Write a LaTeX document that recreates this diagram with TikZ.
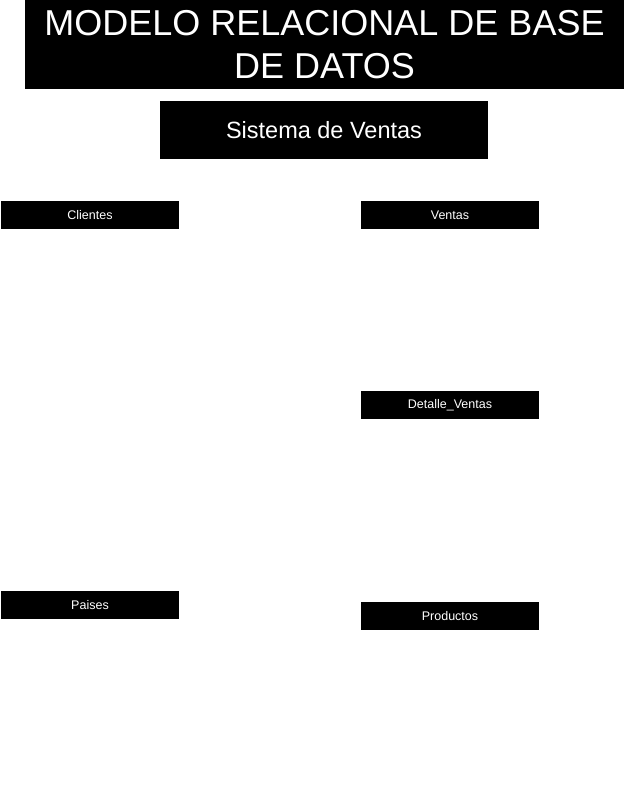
\documentclass[tikz,border=0pt]{standalone}
\usepackage{fontspec}
\setmainfont{Liberation Sans}
\usetikzlibrary{positioning}

\begin{document}
\begin{tikzpicture}[
    x=1pt, y=-1pt,
    titlebox/.style={fill=black, text=white, inner sep=0pt, align=center,
                     minimum width=599pt, minimum height=89pt,
                     font=\fontsize{36}{43}\selectfont},
    subbox/.style={fill=black, text=white, inner sep=0pt,
                   minimum width=328pt, minimum height=58pt,
                   font=\fontsize{23.5}{28}\selectfont},
    tbl/.style={fill=black, text=white, inner sep=0pt,
                minimum width=178pt, minimum height=28pt,
                font=\fontsize{12.5}{15}\selectfont}
]
\useasboundingbox (0,0) rectangle (625,812);

% ============================================================
% HEADINGS
% ============================================================
\node[titlebox] (titulo)  at (324.5, 44.5) {MODELO RELACIONAL DE BASE\\DE DATOS};
\node[subbox]   (sistema) at (324, 130)    {Sistema de Ventas};

% ============================================================
% TABLES (left column x=90, right column x=450)
% ============================================================
\node[tbl] (clientes)  at (90, 215)  {Clientes};
\node[tbl] (paises)    at (90, 605)  {Paises};

\node[tbl] (ventas)    at (450, 215) {Ventas};
\node[tbl] (detalle)   at (450, 405) {Detalle\_Ventas};
\node[tbl] (productos) at (450, 616) {Productos};

\end{tikzpicture}
\end{document}
